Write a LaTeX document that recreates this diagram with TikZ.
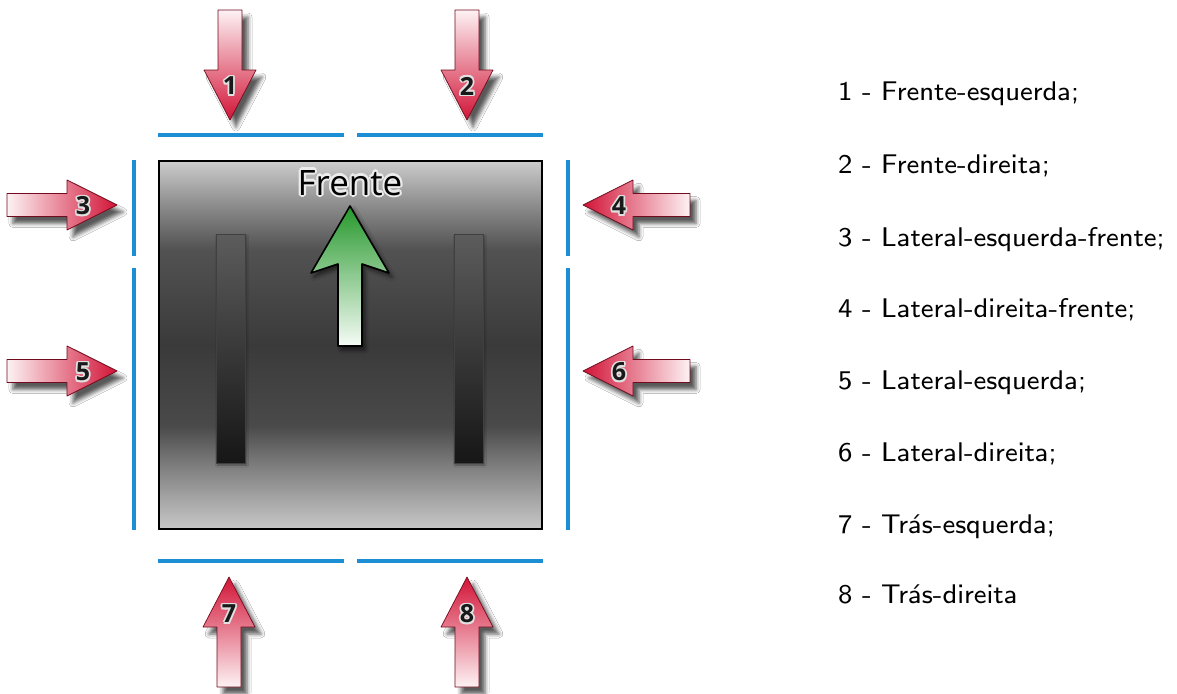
\documentclass[tikz,border=0pt]{standalone}
\usepackage{fontspec}
\newfontfamily\opensans{Open Sans}
\usetikzlibrary{shadows.blur}
\font\legfont=cmss8 at 27pt

\definecolor{redm}{RGB}{210,20,55}
\definecolor{redmid}{RGB}{226,62,92}
\definecolor{redl}{RGB}{253,242,244}
\definecolor{bluel}{RGB}{28,142,212}
\definecolor{greenm}{RGB}{38,152,44}
\definecolor{greenmid}{RGB}{100,186,100}
\definecolor{greenl}{RGB}{246,252,246}
\definecolor{bxtop}{RGB}{204,204,204}
\definecolor{bxA}{RGB}{140,140,140}
\definecolor{bxB}{RGB}{82,82,82}
\definecolor{bxdark}{RGB}{58,58,58}
\definecolor{bxC}{RGB}{74,74,74}
\definecolor{bxD}{RGB}{122,122,122}
\definecolor{bxE}{RGB}{166,166,166}
\definecolor{bxbot}{RGB}{200,200,200}
\definecolor{trtop}{RGB}{92,92,92}
\definecolor{trbot}{RGB}{22,22,22}

\pgfdeclareverticalshading{boxshade}{100bp}{color(0bp)=(bxbot); color(25bp)=(bxbot); color(29bp)=(bxE); color(34bp)=(bxD); color(39bp)=(bxC); color(50bp)=(bxdark); color(63bp)=(bxB); color(69bp)=(bxA); color(75bp)=(bxtop); color(100bp)=(bxtop)}

\newcommand\halo[3]{%
  \rlap{\kern#1pt\textcolor{#2}{#3}}%
  \rlap{\kern-#1pt\textcolor{#2}{#3}}%
  \rlap{\raisebox{#1pt}{\textcolor{#2}{#3}}}%
  \rlap{\raisebox{-#1pt}{\textcolor{#2}{#3}}}%
  \rlap{\kern\dimexpr#1pt*7/10\relax\raisebox{\dimexpr#1pt*7/10\relax}{\textcolor{#2}{#3}}}%
  \rlap{\kern\dimexpr-#1pt*7/10\relax\raisebox{\dimexpr#1pt*7/10\relax}{\textcolor{#2}{#3}}}%
  \rlap{\kern\dimexpr#1pt*7/10\relax\raisebox{\dimexpr-#1pt*7/10\relax}{\textcolor{#2}{#3}}}%
  \rlap{\kern\dimexpr-#1pt*7/10\relax\raisebox{\dimexpr-#1pt*7/10\relax}{\textcolor{#2}{#3}}}%
  #3}

\tikzset{
  redarrow/.style={draw=redm!55!black, line width=0.7pt, line join=round,
    blur shadow={shadow xshift=6pt, shadow yshift=-7pt, shadow blur radius=4pt, shadow opacity=65}},
  numtext/.style={font=\opensans\bfseries\fontsize{25}{25}\selectfont, text=black!90, inner sep=0pt},
  bluebar/.style={draw=bluel, line width=3.5pt},
  legend/.style={font=\legfont, anchor=base west, inner sep=0pt},
}

% arrows: tip x, tip y, number, name
\newcommand\arrdown[4]{\begin{scope}[shift={(#1,#2)}]
  \path[redarrow, top color=redl, middle color=redmid, bottom color=redm]
    (0,0) -- (26,-50) -- (12,-50) -- (12,-110) -- (-12,-110) -- (-12,-50) -- (-26,-50) -- cycle;
  \node[numtext] (#4) at (0,-34) {\halo{1.8}{black!12}{#3}};
\end{scope}}
\newcommand\arrup[4]{\begin{scope}[shift={(#1,#2)}]
  \path[redarrow, top color=redm, middle color=redmid, bottom color=redl]
    (0,0) -- (26,50) -- (12,50) -- (12,110) -- (-12,110) -- (-12,50) -- (-26,50) -- cycle;
  \node[numtext] (#4) at (0,37) {\halo{1.8}{black!12}{#3}};
\end{scope}}
\newcommand\arrright[4]{\begin{scope}[shift={(#1,#2)}]
  \path[redarrow, left color=redl, middle color=redmid, right color=redm]
    (0,0) -- (-50,-25) -- (-50,-11.5) -- (-110,-11.5) -- (-110,11.5) -- (-50,11.5) -- (-50,25) -- cycle;
  \node[numtext] (#4) at (-34,1) {\halo{1.8}{black!12}{#3}};
\end{scope}}
\newcommand\arrleft[4]{\begin{scope}[shift={(#1,#2)}]
  \path[redarrow, left color=redm, middle color=redmid, right color=redl]
    (0,0) -- (50,-25) -- (50,-11.5) -- (107,-11.5) -- (107,11.5) -- (50,11.5) -- (50,25) -- cycle;
  \node[numtext] (#4) at (36,1) {\halo{1.8}{black!12}{#3}};
\end{scope}}

\begin{document}
\begin{tikzpicture}[x=1pt,y=-1pt]
\useasboundingbox[fill=white] (0,0) rectangle (1177,693);

% main box
\node[draw=black, line width=2pt, shading=boxshade, minimum width=383pt, minimum height=368pt, inner sep=0pt] (box) at (350.5,345) {};

% tracks
\node[draw=black!75, line width=0.8pt, top color=trtop, bottom color=trbot, minimum width=29pt, minimum height=229pt, inner sep=0pt,
  blur shadow={shadow xshift=1.5pt, shadow yshift=-1.5pt, shadow blur radius=2pt, shadow opacity=40}] (trackL) at (230.5,349) {};
\node[draw=black!75, line width=0.8pt, top color=trtop, bottom color=trbot, minimum width=29pt, minimum height=229pt, inner sep=0pt,
  blur shadow={shadow xshift=1.5pt, shadow yshift=-1.5pt, shadow blur radius=2pt, shadow opacity=40}] (trackR) at (468.5,349) {};

% green arrow
\path[draw=black, line width=1.6pt, line join=round, top color=greenm, middle color=greenmid, bottom color=greenl,
  blur shadow={shadow xshift=3pt, shadow yshift=-4pt, shadow blur radius=4pt, shadow opacity=60}]
  (350,206) -- (389,273) -- (362,264) -- (362,346) -- (338,346) -- (338,264) -- (311,273) -- cycle;

% Frente label
\node[font=\opensans\fontsize{35}{35}\selectfont, anchor=base, inner sep=0pt] (frente) at (350,195) {\halo{2.2}{white!85!gray}{Frente}};

% blue bars
\draw[bluebar] (158,135) -- (344,135);
\draw[bluebar] (357,135) -- (543,135);
\draw[bluebar] (158,561) -- (344,561);
\draw[bluebar] (357,561) -- (543,561);
\draw[bluebar] (134,160) -- (134,256);
\draw[bluebar] (134,268) -- (134,530);
\draw[bluebar] (568,160) -- (568,256);
\draw[bluebar] (568,268) -- (568,530);

% red arrows
\arrdown{230}{120}{1}{n1}
\arrdown{467}{120}{2}{n2}
\arrright{117}{205}{3}{n3}
\arrleft{583}{205}{4}{n4}
\arrright{117}{371}{5}{n5}
\arrleft{583}{371}{6}{n6}
\arrup{229}{577}{7}{n7}
\arrup{467}{577}{8}{n8}

% legend
\node[legend] (l1) at (838,100) {1 - Frente-esquerda;};
\node[legend] (l2) at (838,173) {2 - Frente-direita;};
\node[legend] (l3) at (838,246) {3 - Lateral-esquerda-frente;};
\node[legend] (l4) at (838,317) {4 - Lateral-direita-frente;};
\node[legend] (l5) at (838,389) {5 - Lateral-esquerda;};
\node[legend] (l6) at (838,461) {6 - Lateral-direita;};
\node[legend] (l7) at (838,533) {7 - Tr{\accent19 a}s-esquerda;};
\node[legend] (l8) at (838,603) {8 - Tr{\accent19 a}s-direita};
\end{tikzpicture}
\end{document}
